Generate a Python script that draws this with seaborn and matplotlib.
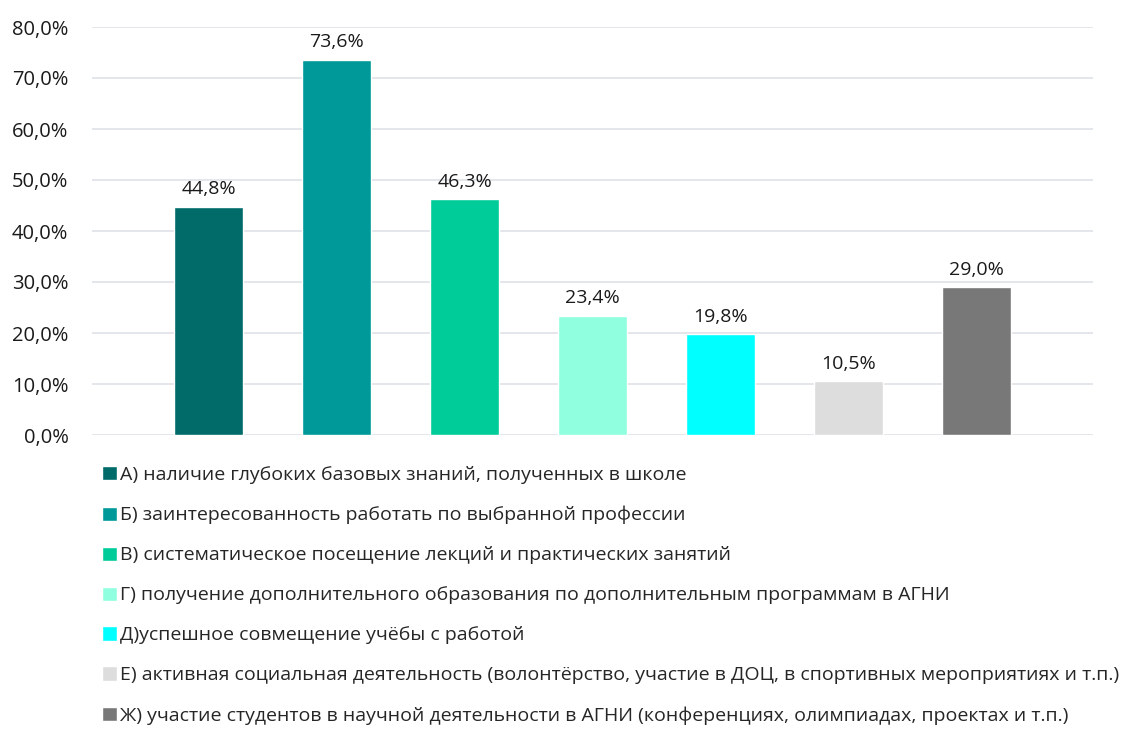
#!/usr/bin/env python3
# bar chart: factors of successful study (AGNI survey)

import matplotlib
matplotlib.use('Agg')
import matplotlib.pyplot as plt
import pandas as pd
import seaborn as sns

# Data =========================================================================

categories = [
    'А) наличие глубоких базовых знаний, полученных в школе',
    'Б) заинтересованность работать по выбранной профессии',
    'В) систематическое посещение лекций и практических занятий',
    'Г) получение дополнительного образования по дополнительным программам в АГНИ',
    'Д)успешное совмещение учёбы с работой',
    'Е) активная социальная деятельность (волонтёрство, участие в ДОЦ, в спортивных мероприятиях и т.п.)',
    'Ж) участие студентов в научной деятельности в АГНИ (конференциях, олимпиадах, проектах и т.п.)',
]
values = [44.8, 73.6, 46.3, 23.4, 19.8, 10.5, 29.0]
colors = ['#006B68', '#009999', '#00CC99', '#8FFFDF', '#00FFFF', '#DDDDDD', '#787878']
y_ticks = [0, 10, 20, 30, 40, 50, 60, 70, 80]


def pct(v):
    return f'{v:.1f}%'.replace('.', ',')


def main():
    sns.set_theme(style='white')
    plt.rcParams['font.family'] = ['Open Sans', 'DejaVu Sans']

    fig = plt.figure(figsize=(11.3, 7.36), dpi=100)
    ax = fig.add_axes([92 / 1130, 1 - 435 / 736, (1093 - 92) / 1130, (435 - 27) / 736])

    df = pd.DataFrame({'cat': categories, 'val': values})
    sns.barplot(data=df, x='cat', y='val', hue='cat', palette=colors,
                width=0.54, dodge=False, saturation=1, legend=True, ax=ax)

    for cont, v in zip(ax.containers, values):
        ax.bar_label(cont, labels=[pct(v)], padding=6, fontsize=14, color='#1a1a1a')

    ax.set_xlim(-0.914, 6.914)
    ax.set_ylim(0, 80)
    ax.set_yticks(y_ticks)
    ax.set_yticklabels([pct(t) for t in y_ticks], fontsize=14.5, color='#1a1a1a')
    ax.set_xticks([])
    ax.set_xlabel('')
    ax.set_ylabel('')
    ax.yaxis.grid(True, color='#E1E4E9', linewidth=1.3)
    ax.set_axisbelow(True)
    for s in ax.spines.values():
        s.set_visible(False)
    ax.tick_params(axis='y', length=0, pad=17)

    leg = ax.get_legend()
    handles = leg.legend_handles
    leg.remove()
    fig.legend(handles, categories, loc='upper left',
               bbox_to_anchor=(102 / 1130, 1 - 466 / 736),
               frameon=False, fontsize=14, handlelength=0.75, handleheight=0.75,
               handletextpad=0.2, labelspacing=1.13, borderaxespad=0, borderpad=0)

    fig.savefig('out.png', dpi=100)


if __name__ == '__main__':
    main()
